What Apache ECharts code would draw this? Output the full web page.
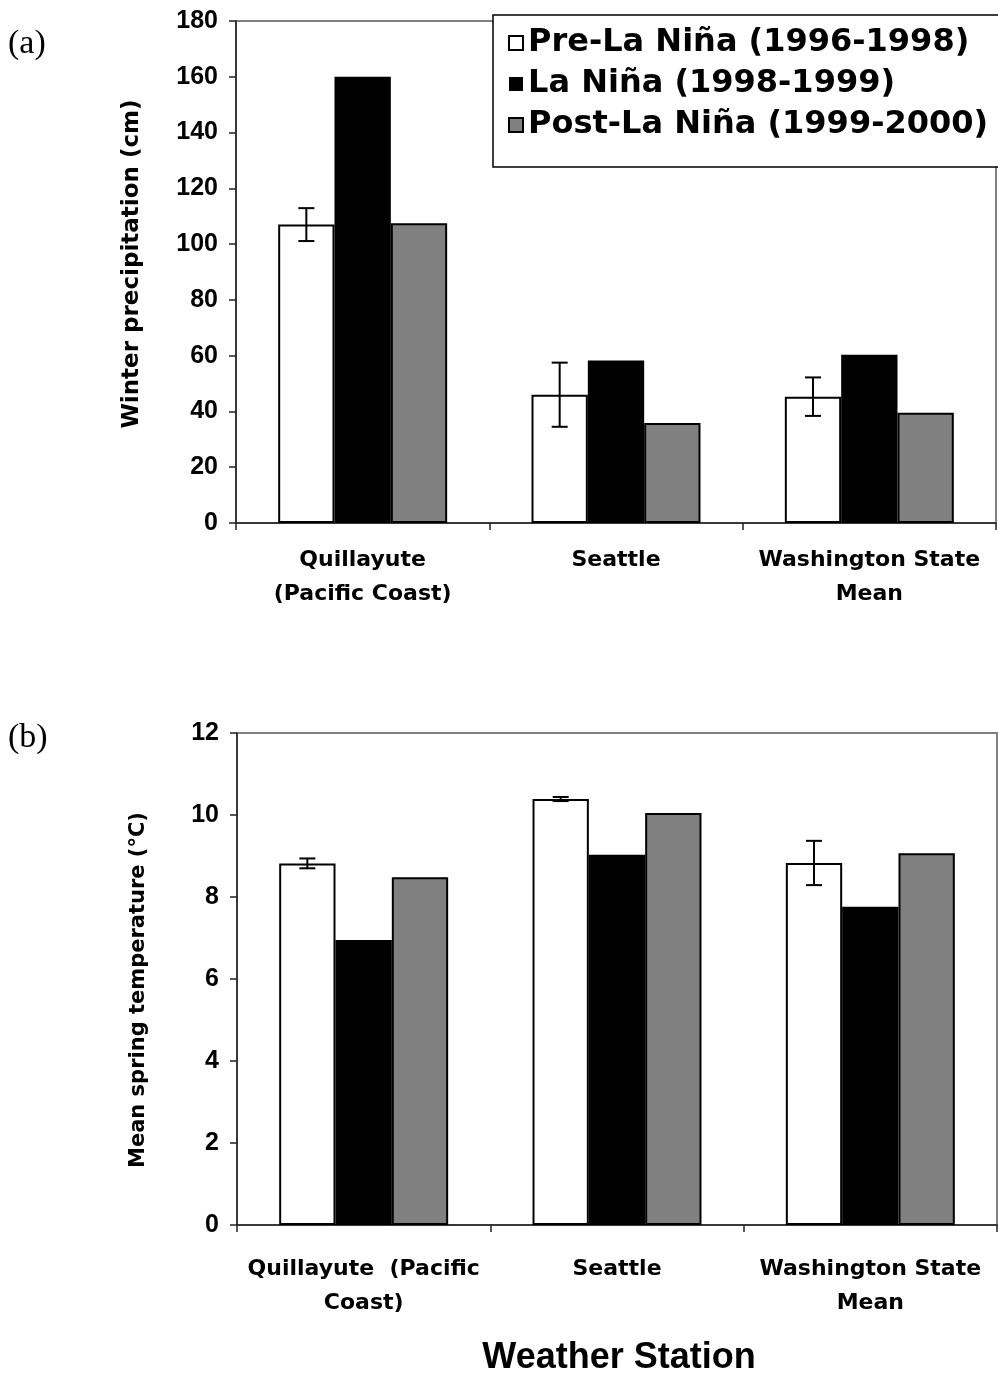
<!DOCTYPE html>
<html>
<head>
<meta charset="utf-8">
<script src="https://cdn.jsdelivr.net/npm/echarts@6/dist/echarts.min.js"></script>
<style>
html,body{margin:0;padding:0;background:#fff;}
#chart{width:998px;height:1374px;}
</style>
</head>
<body>
<div id="chart"></div>
<script>
// ---- data ----
const categoriesA = ['Quillayute\n(Pacific Coast)', 'Seattle', 'Washington State\nMean'];
const categoriesB = ['Quillayute  (Pacific\nCoast)', 'Seattle', 'Washington State\nMean'];
const seriesNames = ['Pre-La Niña (1996-1998)', 'La Niña (1998-1999)', 'Post-La Niña (1999-2000)'];

const precipPre = [107, 46, 45.3];
const precipPreErr = [5.9, 11.5, 6.9];
const precipLa = [160, 58.3, 60.3];
const precipPost = [107.5, 35.9, 39.5];

const tempPre = [8.82, 10.39, 8.83];
const tempPreErr = [0.12, 0.05, 0.54];
const tempLa = [6.95, 9.03, 7.76];
const tempPost = [8.48, 10.05, 9.07];

const precipTicks = {min: 0, max: 180, interval: 20};
const tempTicks = {min: 0, max: 12, interval: 2};

const titleA = 'Winter precipitation (cm)';
const titleB = 'Mean spring temperature (°C)';
const titleX = 'Weather Station';

// ---- styles ----
const CAT_GAP = 0.333;
const boldWide = 'DejaVu Sans';
const tickFont = 'Liberation Sans';
const styles = [
  {color: '#ffffff', borderColor: '#000', borderWidth: 2},
  {color: '#000000', borderColor: '#000', borderWidth: 0},
  {color: '#808080', borderColor: '#000', borderWidth: 2}
];

function errRender(params, api) {
  const ci = api.value(0), v = api.value(1), e = api.value(2);
  const band = api.size([1, 0])[0];
  const bw = band * (1 - CAT_GAP) / 3;
  const cx = api.coord([ci, v])[0] - bw;
  const top = api.coord([ci, v + e])[1];
  const bot = api.coord([ci, v - e])[1];
  const cap = 8;
  const st = {stroke: '#000', lineWidth: 2};
  return {type: 'group', children: [
    {type: 'line', shape: {x1: cx, y1: top, x2: cx, y2: bot}, style: st},
    {type: 'line', shape: {x1: cx - cap, y1: top, x2: cx + cap, y2: top}, style: st},
    {type: 'line', shape: {x1: cx - cap, y1: bot, x2: cx + cap, y2: bot}, style: st}
  ]};
}

function barSeries(idx, name, data, axisIdx) {
  return {
    type: 'bar', name: name, data: data,
    xAxisIndex: axisIdx, yAxisIndex: axisIdx,
    barGap: '0%', barCategoryGap: (CAT_GAP * 100) + '%',
    itemStyle: styles[idx], z: 3, animation: false
  };
}

function xAxisCfg(cats, gridIndex, margin) {
  return {
    type: 'category', data: cats, gridIndex: gridIndex,
    axisLine: {lineStyle: {color: '#222', width: 1.5}},
    axisTick: {show: true, alignWithLabel: false, length: 7, lineStyle: {color: '#222', width: 1.5}},
    axisLabel: {interval: 0, margin: margin, fontFamily: boldWide, fontWeight: 'bold',
                fontSize: 22, lineHeight: 34, color: '#000'},
    splitLine: {show: false}
  };
}

function yAxisCfg(ticks, gridIndex) {
  return {
    type: 'value', gridIndex: gridIndex, min: ticks.min, max: ticks.max, interval: ticks.interval,
    axisLine: {show: true, lineStyle: {color: '#222', width: 1.5}},
    axisTick: {show: true, length: 7, lineStyle: {color: '#222', width: 1.5}},
    axisLabel: {margin: 18, fontFamily: tickFont, fontWeight: 'bold', fontSize: 25, color: '#000'},
    splitLine: {show: false}
  };
}

const option = {
  backgroundColor: '#fff',
  animation: false,
  grid: [
    {left: 236, top: 21, width: 760, height: 502, show: true, borderColor: '#808080', borderWidth: 2, backgroundColor: 'transparent'},
    {left: 237, top: 733, width: 760, height: 492, show: true, borderColor: '#808080', borderWidth: 2, backgroundColor: 'transparent'}
  ],
  legend: {
    data: seriesNames,
    icon: 'rect',
    orient: 'vertical', left: 493, top: 15,
    itemWidth: 14, itemHeight: 14, itemGap: 9,
    padding: [12, 4, 32, 15],
    borderWidth: 0, backgroundColor: 'transparent',
    textStyle: {fontFamily: boldWide, fontWeight: 'bold', fontSize: 32, color: '#000', lineHeight: 30},
    selectedMode: false, z: 10
  },
  xAxis: [xAxisCfg(categoriesA, 0, 20), xAxisCfg(categoriesB, 1, 27)],
  yAxis: [yAxisCfg(precipTicks, 0), yAxisCfg(tempTicks, 1)],
  series: [
    barSeries(0, seriesNames[0], precipPre, 0),
    barSeries(1, seriesNames[1], precipLa, 0),
    barSeries(2, seriesNames[2], precipPost, 0),
    barSeries(0, seriesNames[0], tempPre, 1),
    barSeries(1, seriesNames[1], tempLa, 1),
    barSeries(2, seriesNames[2], tempPost, 1),
    {type: 'custom', xAxisIndex: 0, yAxisIndex: 0, renderItem: errRender, z: 5,
     encode: {x: 0, y: 1},
     data: precipPre.map((v, i) => [i, v, precipPreErr[i]])},
    {type: 'custom', xAxisIndex: 1, yAxisIndex: 1, renderItem: errRender, z: 5,
     encode: {x: 0, y: 1},
     data: tempPre.map((v, i) => [i, v, tempPreErr[i]])}
  ],
  graphic: [
    {type: 'rect', z: 9, shape: {x: 493, y: 15, width: 560, height: 152},
     style: {fill: '#fff', stroke: '#000', lineWidth: 1.5}},
    {type: 'text', left: 8, top: 27, style: {text: '(a)', font: '34px "Liberation Serif"', fill: '#000'}},
    {type: 'text', left: 8, top: 721, style: {text: '(b)', font: '34px "Liberation Serif"', fill: '#000'}},
    {type: 'text', x: 132, y: 264, rotation: Math.PI / 2,
     style: {text: titleA, font: 'bold 23px "DejaVu Sans"', fill: '#000', align: 'center', verticalAlign: 'middle'}},
    {type: 'text', x: 139, y: 990, rotation: Math.PI / 2,
     style: {text: titleB, font: 'bold 21px "DejaVu Sans"', fill: '#000', align: 'center', verticalAlign: 'middle'}},
    {type: 'text', x: 619, y: 1358, style: {text: titleX, font: 'bold 36px "Liberation Sans"', fill: '#000', align: 'center', verticalAlign: 'middle'}}
  ]
};

const chart = echarts.init(document.getElementById('chart'), null, {renderer: 'canvas'});
chart.setOption(option);
</script>
</body>
</html>
